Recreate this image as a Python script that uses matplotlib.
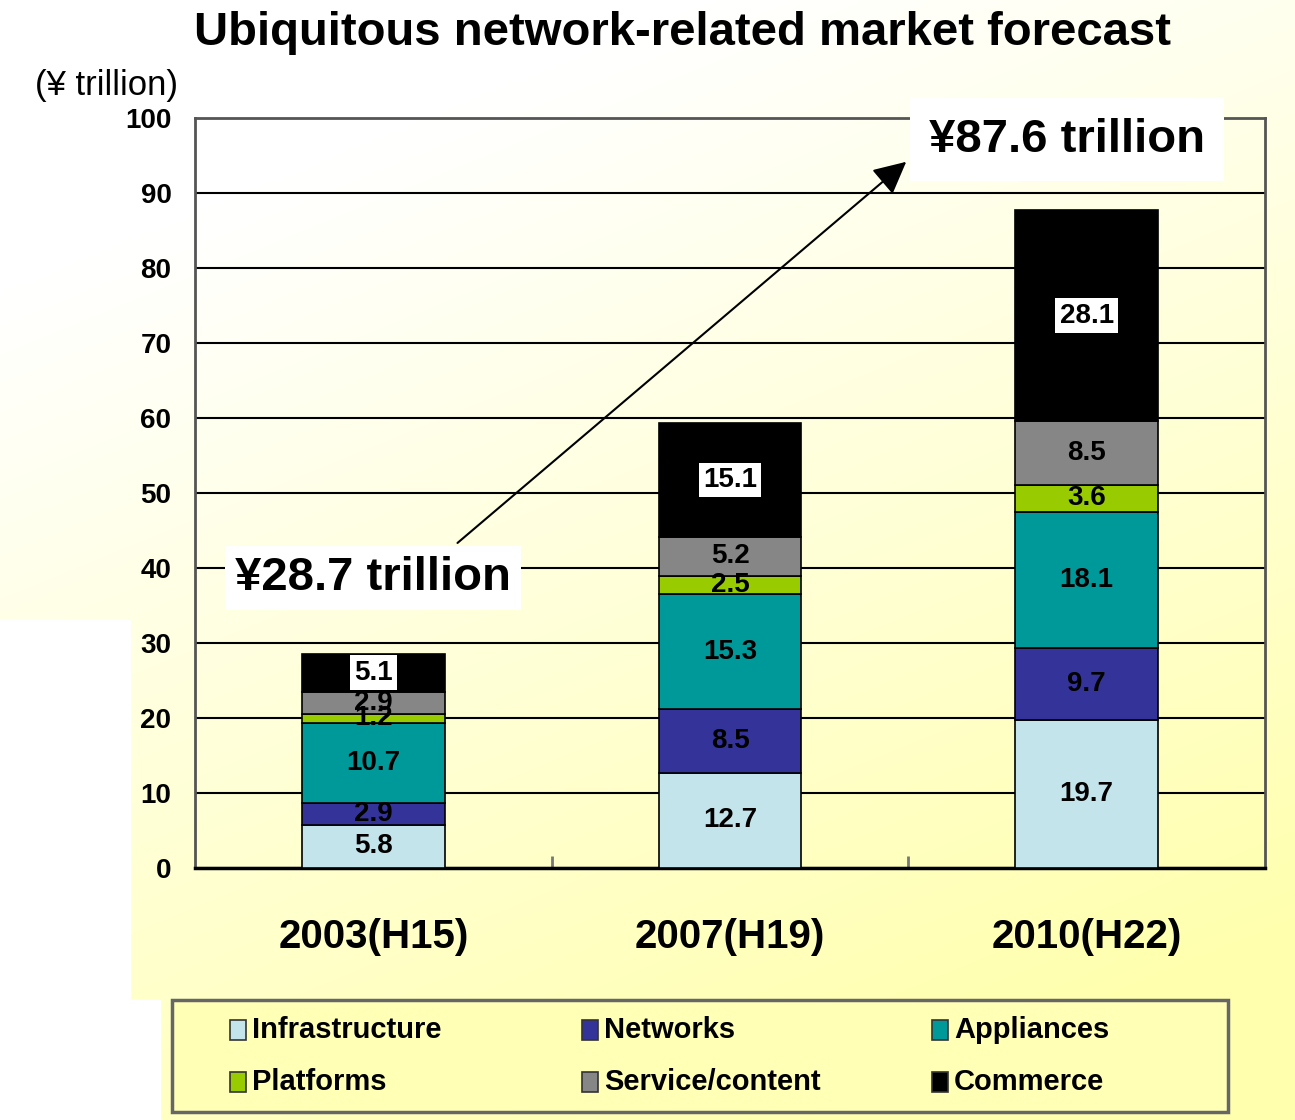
import numpy as np
import matplotlib.pyplot as plt
from matplotlib.patches import Rectangle

years = ['2003(H15)', '2007(H19)', '2010(H22)']
segments = ['Infrastructure', 'Networks', 'Appliances',
            'Platforms', 'Service/content', 'Commerce']
infrastructure = [5.8, 12.7, 19.7]
networks = [2.9, 8.5, 9.7]
appliances = [10.7, 15.3, 18.1]
platforms = [1.2, 2.5, 3.6]
service = [2.9, 5.2, 8.5]
commerce = [5.1, 15.1, 28.1]
totals_text = ['¥28.7 trillion', '¥87.6 trillion']

colors = ['#C4E4EC', '#333399', '#009999', '#99CC00', '#868686', '#000000']
font = ['Liberation Sans', 'DejaVu Sans']

W, H = 1295, 1120
fig = plt.figure(figsize=(W / 100, H / 100), dpi=100)
fig.patch.set_facecolor('white')

# background gradient white -> pale yellow
bg = fig.add_axes([0, 0, 1, 1])
yy, xx = np.mgrid[0:1:200j, 0:1:200j]
t = np.clip(0.95 * yy + 0.45 * xx - 0.25, 0, 1)[..., None]
img = (1 - t) * np.array([1, 1, 1]) + t * np.array([1, 1, 0.68])
bg.imshow(img, extent=[0, 1, 0, 1], aspect='auto', interpolation='bilinear')
bg.add_patch(Rectangle((0, 0), 130 / W, 1 - 620 / H, color='white'))
bg.add_patch(Rectangle((0, 0), 160 / W, 1 - 1000 / H, color='white'))
bg.set_xlim(0, 1)
bg.set_ylim(0, 1)
bg.axis('off')
bg.set_zorder(0)

ax = fig.add_axes([195 / W, 1 - 868 / H, 1070 / W, 750 / H])
ax.set_zorder(1)
ax.patch.set_alpha(0)

x = np.arange(len(years))
data = [infrastructure, networks, appliances, platforms, service, commerce]
bottom = np.zeros(len(years))
for name, vals, c in zip(segments, data, colors):
    ax.bar(x, vals, 0.4, bottom=bottom, color=c, edgecolor='black',
           linewidth=1.2, zorder=3)
    for xi, b, v in zip(x, bottom, vals):
        if name == 'Commerce':
            ax.text(xi, b + v / 2, f'{v}', ha='center', va='center',
                    fontsize=20, fontweight='bold', family=font, zorder=5,
                    bbox=dict(facecolor='white', edgecolor='none', pad=3))
        else:
            ax.text(xi, b + v / 2, f'{v}', ha='center', va='center',
                    fontsize=20, fontweight='bold', family=font, zorder=5)
    bottom += np.array(vals)

ax.set_xlim(-0.5, 2.5)
ax.set_ylim(0, 100)
ax.set_yticks(np.arange(0, 101, 10))
ax.yaxis.grid(True, color='black', linewidth=1.5, zorder=0)
ax.set_axisbelow(True)
ax.tick_params(axis='y', length=0, pad=17)
for lab in ax.get_yticklabels():
    lab.set_family(font)
    lab.set_fontweight('bold')
    lab.set_fontsize(20)
ax.set_xticks(x)
ax.set_xticklabels(years, fontsize=29, fontweight='bold', family=font)
ax.tick_params(axis='x', which='major', length=0, pad=36)
ax.set_xticks([0.5, 1.5], minor=True)
ax.tick_params(axis='x', which='minor', direction='in', length=9,
               width=2, color='#777777')
for s in ['left', 'right', 'top']:
    ax.spines[s].set_color('#555555')
    ax.spines[s].set_linewidth(2)
ax.spines['bottom'].set_linewidth(2.5)

# growth arrow and totals
ax.annotate('', xy=(1.5, 94.4), xytext=(0.23, 43.1),
            arrowprops=dict(arrowstyle='-|>', color='black', lw=1.5,
                            mutation_scale=50), zorder=6)
ax.text(0.0, 38.7, totals_text[0], ha='center', va='center', fontsize=34,
        fontweight='bold', family=font, zorder=6,
        bbox=dict(facecolor='white', edgecolor='none', pad=7))
ax.text(1.945, 97.1, totals_text[1], ha='center', va='center', fontsize=34,
        fontweight='bold', family=font, zorder=6, clip_on=False,
        bbox=dict(facecolor='white', edgecolor='none', pad=14))

fig.text(682 / W, 1 - 33 / H, 'Ubiquitous network-related market forecast',
         ha='center', va='center', fontsize=34, fontweight='bold', family=font)
fig.text(35 / W, 1 - 85 / H, '(¥ trillion)', ha='left', va='center',
         fontsize=25, family=font)

# legend box
fig.add_artist(Rectangle((172 / W, 1 - 1112 / H), 1056 / W, 112 / H,
                         transform=fig.transFigure, facecolor='#FFFFB6',
                         edgecolor='#666666', linewidth=2.5, zorder=2))
col_x = [230, 582, 932]
row_y = [1030, 1082]
for i, (name, c) in enumerate(zip(segments, colors)):
    cx = col_x[i % 3]
    cy = row_y[i // 3]
    fig.add_artist(Rectangle((cx / W, 1 - (cy + 10) / H), 16 / W, 20 / H,
                             transform=fig.transFigure, facecolor=c,
                             edgecolor='#333333', linewidth=1.2, zorder=3))
    fig.text((cx + 22) / W, 1 - cy / H, name, ha='left', va='center',
             fontsize=21, fontweight='bold', family=font, zorder=3)

plt.savefig('out.png', dpi=100)
